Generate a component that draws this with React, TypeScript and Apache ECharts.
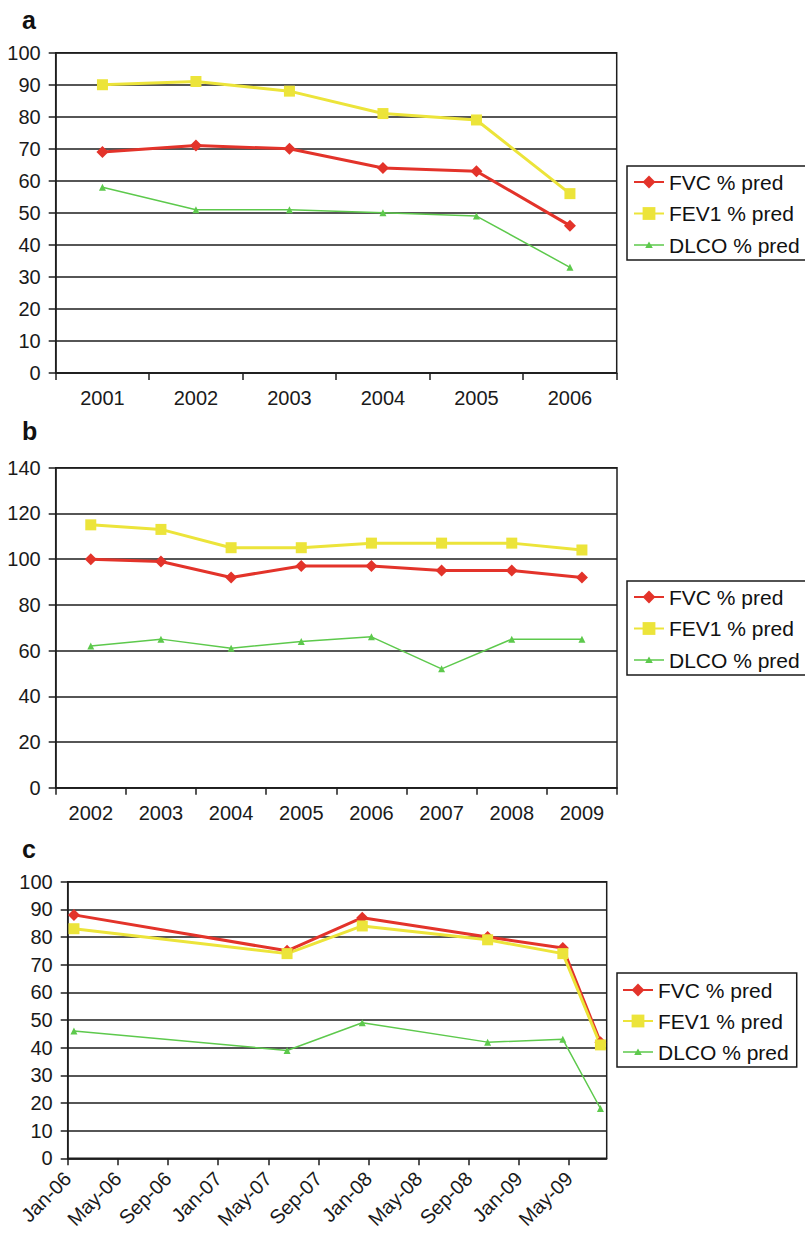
import React, { useEffect, useRef } from 'react';
import * as echarts from 'echarts';

const seriesNames = ['FVC % pred', 'FEV1 % pred', 'DLCO % pred'];
const seriesColors = ['#e3332a', '#ece43a', '#5dc94c'];

// Panel a
const aYears = ['2001', '2002', '2003', '2004', '2005', '2006'];
const aFVC = [69, 71, 70, 64, 63, 46];
const aFEV1 = [90, 91, 88, 81, 79, 56];
const aDLCO = [58, 51, 51, 50, 49, 33];

// Panel b
const bYears = ['2002', '2003', '2004', '2005', '2006', '2007', '2008', '2009'];
const bFVC = [100, 99, 92, 97, 97, 95, 95, 92];
const bFEV1 = [115, 113, 105, 105, 107, 107, 107, 104];
const bDLCO = [62, 65, 61, 64, 66, 52, 65, 65];

// Panel c (monthly date axis)
const cDates = ['2006-01', '2007-06', '2007-12', '2008-10', '2009-04', '2009-07'];
const cFVC = [88, 75, 87, 80, 76, 42];
const cFEV1 = [83, 74, 84, 79, 74, 41];
const cDLCO = [46, 39, 49, 42, 43, 18];
const cAxisStart = '2006-01';
const cAxisEnd = '2009-08';
const cTickLabels = ['Jan-06', 'May-06', 'Sep-06', 'Jan-07', 'May-07', 'Sep-07', 'Jan-08', 'May-08', 'Sep-08', 'Jan-09', 'May-09'];
const cTickStepMonths = 4;

const FONT = '"Liberation Sans", Arial, Helvetica, sans-serif';
const AXIS_COLOR = '#1e1e1e';
const TEXT_COLOR = '#1a1a1a';

function monthIndex(ym: string): number {
  const [y, m] = ym.split('-').map(Number);
  const [y0, m0] = cAxisStart.split('-').map(Number);
  return (y - y0) * 12 + (m - m0);
}

const dlcoIcon = 'path://M0,0M30,16M0,7.25L30,7.25L30,8.75L0,8.75ZM15,4.6L18.8,11L11.2,11Z';

function legend(left: number, top: number, padding: number[], gap: number) {
  return {
    orient: 'vertical',
    left,
    top,
    padding,
    itemGap: gap,
    itemWidth: 30,
    itemHeight: 16,
    selectedMode: false,
    borderColor: '#1a1a1a',
    borderWidth: 1.5,
    backgroundColor: '#fff',
    textStyle: { fontFamily: FONT, fontSize: 21, color: '#111', lineHeight: 21 },
    data: [
      { name: seriesNames[0] },
      { name: seriesNames[1] },
      { name: seriesNames[2], icon: dlcoIcon },
    ],
  };
}

function yAxis(gridIndex: number, max: number, interval: number) {
  return {
    type: 'value',
    gridIndex,
    min: 0,
    max,
    interval,
    axisLine: { show: true, lineStyle: { color: AXIS_COLOR, width: 1.5 } },
    axisTick: { show: true, length: 7, lineStyle: { color: AXIS_COLOR, width: 1.5 } },
    axisLabel: { fontFamily: FONT, fontSize: 20, color: TEXT_COLOR, margin: 15 },
    splitLine: { show: true, lineStyle: { color: AXIS_COLOR, width: 1.6 } },
  };
}

function catAxis(gridIndex: number, data: string[]) {
  return {
    type: 'category',
    gridIndex,
    data,
    boundaryGap: true,
    axisLine: { show: true, lineStyle: { color: AXIS_COLOR, width: 1.5 } },
    axisTick: { show: true, length: 7, interval: 0, alignWithLabel: false, lineStyle: { color: AXIS_COLOR, width: 1.5 } },
    axisLabel: { fontFamily: FONT, fontSize: 20, color: TEXT_COLOR, margin: 15, interval: 0 },
    splitLine: { show: false },
  };
}

function makeSeries(idx: number, values: any[][]) {
  const symbols = ['diamond', 'rect', 'triangle'];
  const sizes = [12, 11, 7];
  const widths = [3, 3, 1.5];
  return values.map((data, i) => ({
    type: 'line',
    name: seriesNames[i],
    xAxisIndex: idx,
    yAxisIndex: idx,
    data,
    symbol: symbols[i],
    symbolSize: sizes[i],
    showAllSymbol: true,
    color: seriesColors[i],
    lineStyle: { color: seriesColors[i], width: widths[i] },
    itemStyle: { color: seriesColors[i], borderWidth: 0 },
    emphasis: { disabled: true },
  }));
}

export default function App() {
  const ref = useRef<HTMLDivElement>(null);

  useEffect(() => {
    if (!ref.current) return;
    const chart = echarts.init(ref.current, undefined, { renderer: 'svg' });

    const cData = (vals: number[]) => cDates.map((d, i) => [monthIndex(d) + 0.5, vals[i]]);
    const cTickValues = cTickLabels.map((_, i) => i * cTickStepMonths);

    const grids = [
      { left: 55.7, top: 52.7, width: 561, height: 320.3 },
      { left: 55.7, top: 467.7, width: 561.3, height: 320 },
      { left: 67.7, top: 881.7, width: 539, height: 276.6 },
    ].map((g) => ({ ...g, show: true, borderColor: AXIS_COLOR, borderWidth: 1.5, backgroundColor: 'transparent' }));

    const option: any = {
      animation: false,
      backgroundColor: '#fff',
      textStyle: { fontFamily: FONT },
      grid: grids,
      xAxis: [
        catAxis(0, aYears),
        catAxis(1, bYears),
        {
          type: 'value',
          gridIndex: 2,
          min: 0,
          max: monthIndex(cAxisEnd),
          interval: cTickStepMonths,
          axisLine: { show: true, lineStyle: { color: AXIS_COLOR, width: 1.5 } },
          axisTick: { show: true, length: 7, customValues: cTickValues, lineStyle: { color: AXIS_COLOR, width: 1.5 } },
          axisLabel: {
            fontFamily: FONT,
            fontSize: 20,
            color: TEXT_COLOR,
            rotate: 45,
            margin: 17,
            customValues: cTickValues,
            formatter: (v: number) => {
              const k = Math.round(v / cTickStepMonths);
              return cTickLabels[k] ?? '';
            },
          },
          splitLine: { show: false },
        },
      ],
      yAxis: [yAxis(0, 100, 10), yAxis(1, 140, 20), yAxis(2, 100, 10)],
      legend: [
        legend(627, 166, [5.5, 8, 4.5, 6], 10.5),
        legend(627, 581, [5.5, 8, 4.5, 6], 10.5),
        legend(617, 973, [6.5, 8, 4.5, 5], 10),
      ],
      graphic: [
        { type: 'text', x: 22, y: 20, style: { text: 'a', fontFamily: FONT, fontSize: 25, fontWeight: 'bold', fill: '#111', verticalAlign: 'middle' } },
        { type: 'text', x: 22, y: 431, style: { text: 'b', fontFamily: FONT, fontSize: 25, fontWeight: 'bold', fill: '#111', verticalAlign: 'middle' } },
        { type: 'text', x: 22, y: 849, style: { text: 'c', fontFamily: FONT, fontSize: 25, fontWeight: 'bold', fill: '#111', verticalAlign: 'middle' } },
      ],
      series: [
        ...makeSeries(0, [aFVC, aFEV1, aDLCO]),
        ...makeSeries(1, [bFVC, bFEV1, bDLCO]),
        ...makeSeries(2, [cData(cFVC), cData(cFEV1), cData(cDLCO)]),
      ],
    };

    chart.setOption(option);
    return () => chart.dispose();
  }, []);

  return (
    <div
      ref={ref}
      style={{ position: 'absolute', left: 0, top: 0, width: 805, height: 1234, background: '#fff' }}
    />
  );
}
